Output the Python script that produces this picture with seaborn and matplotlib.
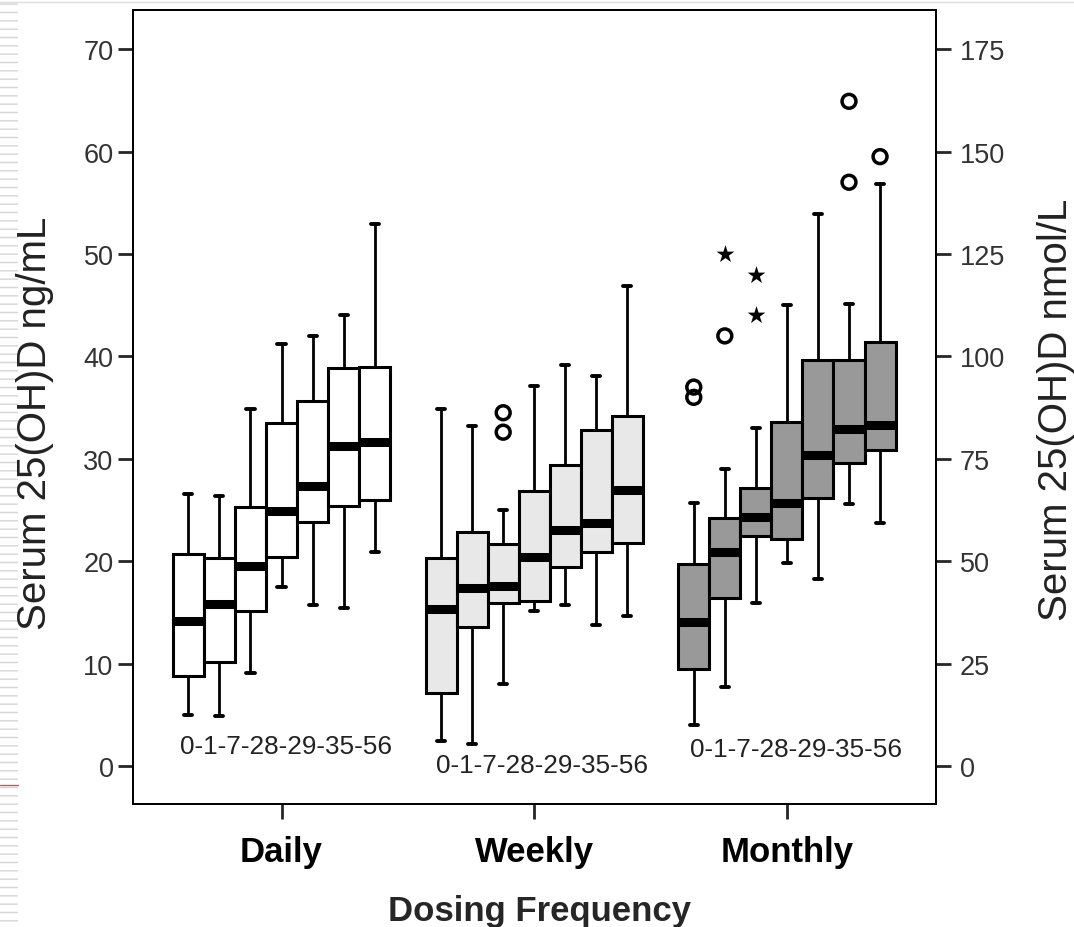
import numpy as np
import pandas as pd
import matplotlib.pyplot as plt
from matplotlib.patches import Rectangle
from matplotlib.lines import Line2D
import seaborn as sns

# Serum 25(OH)D by dosing frequency and study day (box stats, ng/mL)
groups = ['Daily', 'Weekly', 'Monthly']
days = ['0', '1', '7', '28', '29', '35', '56']

daily_lo = [5.0, 4.9, 9.1, 17.5, 15.7, 15.4, 20.9]
daily_q1 = [8.8, 10.2, 15.1, 20.4, 23.8, 25.4, 26.0]
daily_med = [14.2, 15.8, 19.5, 24.9, 27.3, 31.3, 31.6]
daily_q3 = [20.7, 20.3, 25.3, 33.5, 35.6, 38.9, 39.0]
daily_hi = [26.6, 26.4, 34.9, 41.2, 42.0, 44.0, 52.9]

weekly_lo = [2.5, 2.2, 8.0, 15.1, 15.7, 13.8, 14.7]
weekly_q1 = [7.1, 13.6, 15.9, 16.1, 19.4, 20.9, 21.8]
weekly_med = [15.3, 17.4, 17.6, 20.4, 23.1, 23.7, 27.0]
weekly_q3 = [20.3, 22.9, 21.7, 26.9, 29.4, 32.8, 34.2]
weekly_hi = [34.9, 33.2, 25.0, 37.1, 39.2, 38.1, 46.9]

monthly_lo = [4.0, 7.7, 15.9, 19.8, 18.3, 25.6, 23.7]
monthly_q1 = [9.5, 16.4, 22.5, 22.2, 26.2, 29.6, 30.9]
monthly_med = [14.1, 20.9, 24.3, 25.7, 30.4, 32.9, 33.3]
monthly_q3 = [19.7, 24.2, 27.2, 33.6, 39.6, 39.6, 41.4]
monthly_hi = [25.7, 29.0, 33.0, 45.0, 53.9, 45.1, 56.8]

# outliers (circles) and extremes (stars)
out_group = ['Weekly', 'Weekly', 'Monthly', 'Monthly', 'Monthly', 'Monthly', 'Monthly', 'Monthly']
out_day = ['7', '7', '0', '0', '1', '35', '35', '56']
out_value = [34.5, 32.6, 37.0, 36.0, 42.0, 64.9, 57.0, 59.5]
ext_group = ['Monthly', 'Monthly', 'Monthly']
ext_day = ['1', '7', '7']
ext_value = [50.0, 47.9, 44.0]

fills = ['white', '#e8e8e8', '#999999']
day_label = '0-1-7-28-29-35-56'
day_label_pos = [(0.017, 1.95), (1.03, 0.1), (2.035, 1.66)]

# long table: five points per box so the quartiles / whisker ends come out as read
stats = {
    'Daily': (daily_lo, daily_q1, daily_med, daily_q3, daily_hi),
    'Weekly': (weekly_lo, weekly_q1, weekly_med, weekly_q3, weekly_hi),
    'Monthly': (monthly_lo, monthly_q1, monthly_med, monthly_q3, monthly_hi),
}
rows = []
for g in groups:
    for i, d in enumerate(days):
        for col in stats[g]:
            rows.append((g, d, col[i]))
df = pd.DataFrame(rows, columns=['group', 'day', 'value'])

sns.set_style('ticks')
plt.rcParams['font.family'] = ['Liberation Sans', 'DejaVu Sans']

fig = plt.figure(figsize=(10.74, 9.28), dpi=100)
ax = fig.add_axes([0.1238, 0.1325, 0.8715 - 0.1238, 0.988 - 0.1325])

sns.boxplot(data=df, x='group', y='value', hue='day', order=groups, hue_order=days,
            width=0.86, gap=0, dodge=True, whis=(0, 100), fill=True,
            palette={d: 'white' for d in days}, linecolor='black', linewidth=2.2,
            medianprops=dict(linewidth=6.5), whiskerprops=dict(linewidth=2.0),
            capprops=dict(linewidth=2.8), capwidths=0.032, legend=False, ax=ax)

# colour the boxes by dosing group and remember their centres
def center(p):
    v = p.get_path().vertices[:, 0]
    return (v.min() + v.max()) / 2

pos = {}
for k, p in enumerate(sorted(ax.patches, key=center)):
    p.set_facecolor(fills[k // 7])
    p.set_edgecolor('black')
    pos[(groups[k // 7], days[k % 7])] = center(p)

ax.scatter([pos[(g, d)] for g, d in zip(out_group, out_day)], out_value,
           marker='o', s=100, facecolors='none', edgecolors='black', linewidths=2.5, zorder=5)
ax.scatter([pos[(g, d)] for g, d in zip(ext_group, ext_day)], ext_value,
           marker='*', s=180, color='black', linewidths=0, zorder=5)

for x, y in day_label_pos:
    ax.text(x, y, day_label, ha='center', va='center', fontsize=18.8, color='#222222')

ax.set_xlim(-0.588, 2.590)
ax.set_ylim(-3.7, 73.8)
ax.set_yticks(range(0, 71, 10))
ax.set_xlabel('')
ax.set_ylabel('')
ax.set_xticks(range(len(groups)))
ax.set_xticklabels(groups, fontsize=25, fontweight='bold', color='black')
ax.tick_params(axis='y', labelsize=19.5, labelcolor='#333333', length=11, width=2, pad=3)
ax.tick_params(axis='x', length=11, width=2, pad=11)
for s in ax.spines.values():
    s.set_visible(True)
    s.set_color('black')
    s.set_linewidth(1.3)

ax2 = ax.twinx()
ax2.set_ylim(-3.7 * 2.5, 73.8 * 2.5)
ax2.set_yticks(range(0, 176, 25))
ax2.tick_params(axis='y', labelsize=19.5, labelcolor='#333333', length=11, width=2, pad=6)
for s in ax2.spines.values():
    s.set_color('black')
    s.set_linewidth(1.3)

fig.text(35 / 1074, 1 - 423 / 928, 'Serum 25(OH)D ng/mL', rotation=90,
         ha='center', va='center', fontsize=29, color='#222222')
fig.text(1056 / 1074, 1 - 410 / 928, 'Serum 25(OH)D nmol/L', rotation=90,
         ha='center', va='center', fontsize=29, color='#222222')
fig.text(540 / 1074, 1 - 921 / 928, 'Dosing Frequency', ha='center', va='baseline',
         fontsize=25, fontweight='bold')

# slide decoration at the left edge
plt.rcParams['hatch.color'] = '#d6d6d6'
fig.add_artist(Rectangle((0, 0), 18 / 1074, 1, transform=fig.transFigure,
                         facecolor='white', edgecolor='#d6d6d6', hatch='--', linewidth=0))
fig.add_artist(Line2D([0, 18 / 1074], [1 - 786 / 928] * 2, transform=fig.transFigure,
                      color='#d9534f', linewidth=1))
fig.add_artist(Line2D([0, 1], [1 - 3 / 928] * 2, transform=fig.transFigure,
                      color='#dddddd', linewidth=1))

fig.savefig('out.png', dpi=100)
